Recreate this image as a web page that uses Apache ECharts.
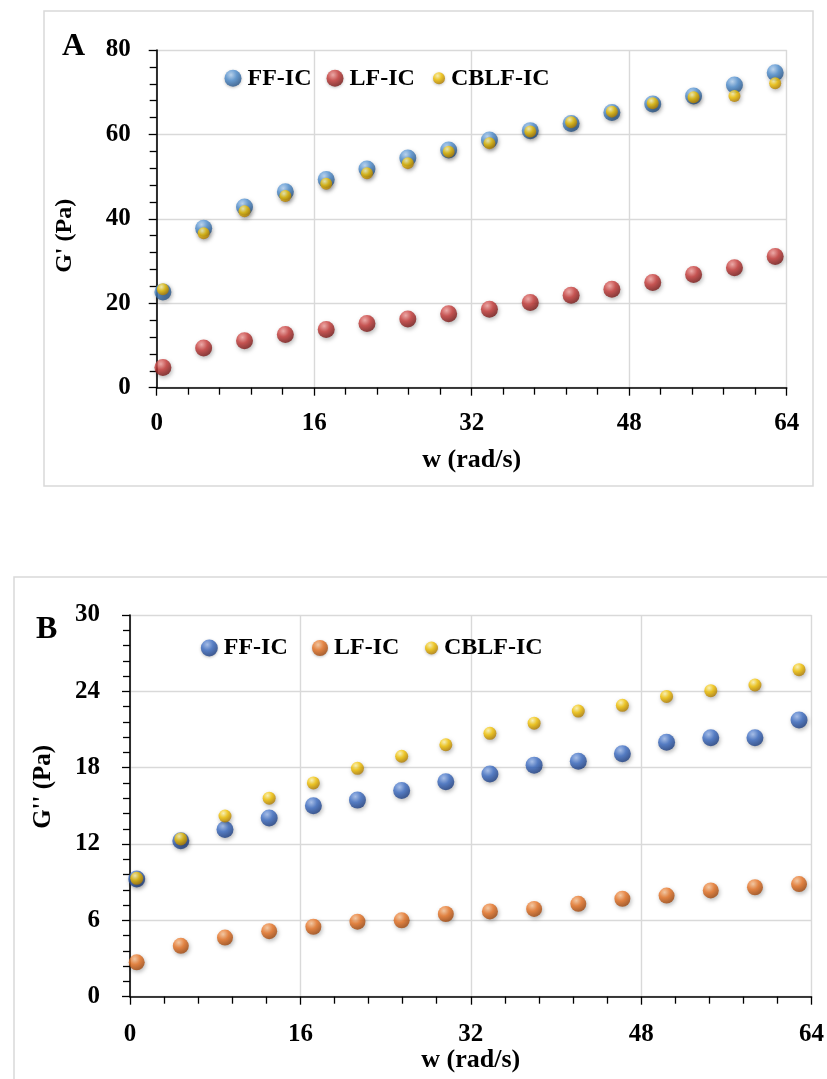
<!DOCTYPE html>
<html>
<head>
<meta charset="utf-8">
<script src="https://cdn.jsdelivr.net/npm/echarts@6/dist/echarts.min.js"></script>
<style>html,body{margin:0;padding:0;background:#fff}#c{width:827px;height:1079px}</style>
</head>
<body>
<div id="c"></div>
<script>
// angular frequency w (rad/s)
const w = [0.63, 4.77, 8.92, 13.07, 17.22, 21.36, 25.51, 29.66, 33.80, 37.95, 42.10, 46.24, 50.39, 54.54, 58.69, 62.83];
// Panel A: G' (Pa)
const gp_FF   = [22.7, 37.8, 42.8, 46.4, 49.3, 51.8, 54.4, 56.3, 58.7, 60.9, 62.6, 65.2, 67.2, 69.1, 71.7, 74.6];
const gp_LF   = [4.8, 9.4, 11.1, 12.6, 13.8, 15.2, 16.3, 17.5, 18.6, 20.2, 21.9, 23.3, 24.9, 26.8, 28.4, 31.1];
const gp_CBLF = [23.3, 36.6, 41.8, 45.4, 48.3, 50.8, 53.2, 55.9, 57.9, 60.7, 62.9, 65.4, 67.4, 68.8, 69.1, 72.1];
// Panel B: G'' (Pa)
const gpp_FF   = [9.25, 12.25, 13.15, 14.05, 15.0, 15.45, 16.2, 16.9, 17.5, 18.2, 18.5, 19.1, 20.0, 20.35, 20.35, 21.75];
const gpp_LF   = [2.7, 4.0, 4.65, 5.15, 5.5, 5.9, 6.0, 6.5, 6.7, 6.9, 7.3, 7.7, 7.95, 8.35, 8.6, 8.85];
const gpp_CBLF = [9.3, 12.4, 14.2, 15.6, 16.8, 17.95, 18.9, 19.8, 20.7, 21.5, 22.45, 22.9, 23.6, 24.05, 24.5, 25.7];
const seriesNames = ['FF-IC', 'LF-IC', 'CBLF-IC'];

const FONT = "'Liberation Serif', serif";
function sphere(light, mid, dark) {
  return {type: 'radial', x: 0.38, y: 0.3, r: 0.75,
    colorStops: [{offset: 0, color: light}, {offset: 0.45, color: mid}, {offset: 1, color: dark}]};
}
const C = {
  blueA: sphere('#b8d6f5', '#4f8fd0', '#234f82'),
  red: sphere('#f5a3a0', '#c83a38', '#6e1514'),
  yellow: sphere('#fff6b0', '#f5c400', '#a87400'),
  blueB: sphere('#9fbcef', '#3b6cc4', '#18387a'),
  orange: sphere('#fbc79a', '#ea7424', '#98420a')
};
const zip = ys => ys.map((y, i) => [w[i], y]);
function sc(name, data, color, size, xi) {
  return {type: 'scatter', name: name, xAxisIndex: xi, yAxisIndex: xi, data: zip(data),
    symbol: 'circle', symbolSize: size,
    itemStyle: {color: color, shadowBlur: 4, shadowColor: 'rgba(0,0,0,0.35)', shadowOffsetX: 1, shadowOffsetY: 2},
    emphasis: {disabled: true}, animation: false};
}
const labelStyle = {fontFamily: FONT, fontWeight: 'bold', fontSize: 25, color: '#000'};
function xAxis(gi, margin, nameGap) {
  return {type: 'value', gridIndex: gi, min: 0, max: 64, interval: 16,
    name: 'w (rad/s)', nameLocation: 'middle', nameGap: nameGap,
    nameTextStyle: {fontFamily: FONT, fontWeight: 'bold', fontSize: 26, color: '#000'},
    axisLine: {show: true, lineStyle: {color: '#000', width: 1.6}},
    axisTick: {show: true, length: 8, lineStyle: {color: '#000', width: 1.3}},
    minorTick: {show: true, splitNumber: 5, length: 7, lineStyle: {color: '#000', width: 1.3}},
    splitLine: {show: true, lineStyle: {color: '#d9d9d9', width: 1.4}},
    axisLabel: Object.assign({margin: margin}, labelStyle)};
}
function yAxis(gi, max, interval, name, nameGap, pad, margin, nfs) {
  return {type: 'value', gridIndex: gi, min: 0, max: max, interval: interval,
    name: name, nameLocation: 'middle', nameGap: nameGap,
    nameTextStyle: {fontFamily: FONT, fontWeight: 'bold', fontSize: nfs, color: '#000', padding: pad},
    axisLine: {show: true, lineStyle: {color: '#000', width: 1.6}},
    axisTick: {show: true, length: 8, lineStyle: {color: '#000', width: 1.3}},
    minorTick: {show: true, splitNumber: 5, length: 7, lineStyle: {color: '#000', width: 1.3}},
    splitLine: {show: true, lineStyle: {color: '#d9d9d9', width: 1.4}},
    axisLabel: Object.assign({margin: margin}, labelStyle)};
}
function leg(name, color, size, left, cy) {
  return {show: true, left: left, top: cy - 13, padding: 0, itemWidth: size, itemHeight: size,
    icon: 'circle', selectedMode: false, itemGap: 0,
    textStyle: {fontFamily: FONT, fontWeight: 'bold', fontSize: 24, color: '#000', padding: [0, 0, 0, 1]},
    data: [{name: name, itemStyle: {color: color, shadowBlur: 3, shadowColor: 'rgba(0,0,0,0.3)', shadowOffsetY: 1}}]};
}

const chart = echarts.init(document.getElementById('c'), null, {renderer: 'canvas'});
chart.setOption({
  backgroundColor: '#fff',
  animation: false,
  graphic: [
    {type: 'rect', shape: {x: 44, y: 11, width: 769, height: 475}, style: {fill: 'none', stroke: '#d9d9d9', lineWidth: 1.5}, z: -10},
    {type: 'rect', shape: {x: 14, y: 577, width: 830, height: 600}, style: {fill: 'none', stroke: '#d9d9d9', lineWidth: 1.5}, z: -10},
    {type: 'text', left: 62, top: 31, style: {text: 'A', fontFamily: FONT, fontWeight: 'bold', fontSize: 32, fill: '#000'}},
    {type: 'text', left: 36, top: 614, style: {text: 'B', fontFamily: FONT, fontWeight: 'bold', fontSize: 32, fill: '#000'}}
  ],
  grid: [
    {left: 156.7, top: 50, width: 630, height: 337.7, containLabel: false},
    {left: 130, top: 615, width: 683.3, height: 381.7, containLabel: false}
  ],
  xAxis: [xAxis(0, 23, 60), xAxis(1, 25, 51)],
  yAxis: [yAxis(0, 80, 20, "G' (Pa)", 80, [0, 34, 0, 0], 26, 24), yAxis(1, 30, 6, "G'' (Pa)", 74, [0, 0, 0, 38], 30, 25)],
  legend: [
    leg(seriesNames[0], C.blueA, 17, 224.5, 79.3),
    leg(seriesNames[1], C.red, 17, 326.5, 79.3),
    leg(seriesNames[2], C.yellow, 12, 433, 79.3),
    leg(seriesNames[0], C.blueB, 17, 200.8, 649),
    leg(seriesNames[1], C.orange, 16, 312, 649),
    leg(seriesNames[2], C.yellow, 13, 425, 649)
  ],
  series: [
    sc(seriesNames[0], gp_FF, C.blueA, 17, 0),
    sc(seriesNames[1], gp_LF, C.red, 17, 0),
    sc(seriesNames[2], gp_CBLF, C.yellow, 12, 0),
    sc(seriesNames[0], gpp_FF, C.blueB, 17, 1),
    sc(seriesNames[1], gpp_LF, C.orange, 16, 1),
    sc(seriesNames[2], gpp_CBLF, C.yellow, 13, 1)
  ]
});
</script>
</body>
</html>
